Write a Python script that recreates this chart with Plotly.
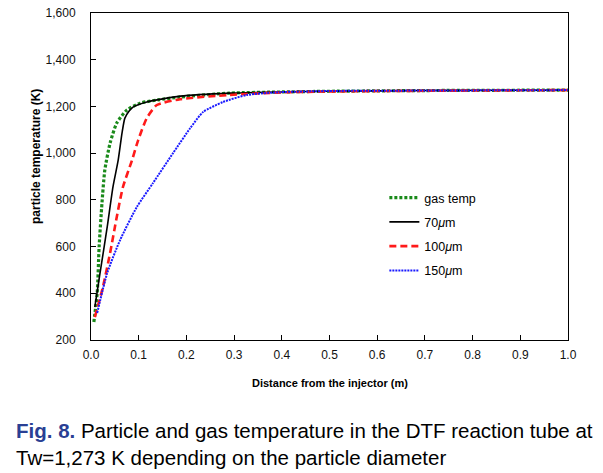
import plotly.graph_objects as go

# Distance (m) and temperature (K)
gas_d = [0.006, 0.013, 0.017, 0.023, 0.029, 0.040, 0.054, 0.075, 0.103, 0.14, 0.187, 0.29, 0.4, 0.5, 0.7, 1.0]
gas_t = [277, 401, 598, 786, 928, 1043, 1129, 1184, 1214, 1228, 1240, 1257, 1262, 1265, 1268, 1270]

p70_d = [0.008, 0.019, 0.034, 0.046, 0.057, 0.065, 0.071, 0.080, 0.088, 0.117, 0.187, 0.29, 0.4, 0.5, 0.7, 1.0]
p70_t = [341, 487, 684, 855, 970, 1086, 1150, 1180, 1197, 1219, 1244, 1257, 1262, 1265, 1268, 1270]

p100_d = [0.008, 0.025, 0.040, 0.054, 0.067, 0.086, 0.099, 0.117, 0.138, 0.187, 0.29, 0.4, 0.5, 0.7, 1.0]
p100_t = [298, 427, 572, 727, 855, 970, 1056, 1150, 1206, 1231, 1249, 1260, 1264, 1267, 1270]

p150_d = [0.013, 0.034, 0.061, 0.096, 0.130, 0.172, 0.208, 0.235, 0.277, 0.327, 0.396, 0.5, 0.7, 1.0]
p150_t = [316, 487, 628, 769, 872, 1000, 1107, 1176, 1219, 1249, 1261, 1266, 1268, 1270]

x_ticks = [0.0, 0.1, 0.2, 0.3, 0.4, 0.5, 0.6, 0.7, 0.8, 0.9, 1.0]
y_ticks = [200, 400, 600, 800, 1000, 1200, 1400, 1600]

FONT = "Liberation Sans, Arial, sans-serif"

fig = go.Figure()
fig.add_trace(go.Scatter(x=gas_d, y=gas_t, mode="lines", name="gas temp", legendgroup="a",
                         line=dict(color="#1a8a1a", width=3.2, dash="3px,2px", shape="spline", smoothing=0.6)))
fig.add_trace(go.Scatter(x=p70_d, y=p70_t, mode="lines", name="70<i>μ</i>m", legendgroup="b",
                         line=dict(color="black", width=1.6, shape="spline", smoothing=0.6)))
fig.add_trace(go.Scatter(x=p100_d, y=p100_t, mode="lines", name="100<i>μ</i>m", legendgroup="c",
                         line=dict(color="#ff1a1a", width=2.6, dash="7px,4px", shape="spline", smoothing=0.6)))
fig.add_trace(go.Scatter(x=p150_d, y=p150_t, mode="lines", name="150<i>μ</i>m", legendgroup="d",
                         line=dict(color="#1a1aff", width=2, dash="2px,1px", shape="spline", smoothing=0.6)))

fig.update_layout(
    width=603, height=473,
    margin=dict(l=91, r=35, t=13, b=133, autoexpand=False),
    paper_bgcolor="white", plot_bgcolor="white",
    font=dict(family=FONT, size=12, color="black"),
    showlegend=True,
    legend=dict(x=0.615, y=0.48, xanchor="left", yanchor="top",
                bgcolor="rgba(0,0,0,0)", font=dict(size=12.5),
                tracegroupgap=5, itemwidth=30),
    xaxis=dict(range=[0, 1.0], tickvals=x_ticks, tickformat=".1f",
               ticks="inside", ticklen=5, tickcolor="black",
               showline=True, linecolor="black", linewidth=1, mirror=True,
               showgrid=False, zeroline=False, ticklabelstandoff=4,
               tickfont=dict(size=12, color="#111")),
    yaxis=dict(range=[200, 1600], tickvals=y_ticks, tickformat=",",
               ticks="inside", ticklen=5, tickcolor="black",
               showline=True, linecolor="black", linewidth=1, mirror=True,
               showgrid=False, zeroline=False, ticklabelstandoff=12,
               tickfont=dict(size=12, color="#111")),
)

fig.add_annotation(text="<b>Distance from the injector (m)</b>", xref="paper", yref="paper",
                   x=0.5, y=-0.13, xanchor="center", yanchor="middle", showarrow=False,
                   font=dict(size=11, color="black"))
fig.add_annotation(text="<b>particle temperature (K)</b>", xref="paper", yref="paper",
                   x=-0.115, y=0.56, xanchor="center", yanchor="middle", showarrow=False,
                   textangle=-90, font=dict(size=12, color="black"))
fig.add_annotation(text="<b><span style='color:#2a3f94'>Fig. 8.</span></b> Particle and gas temperature in the DTF reaction tube at<br>Tw=1,273 K depending on the particle diameter",
                   xref="paper", yref="paper", x=-0.162, y=-0.235, xanchor="left", yanchor="top",
                   showarrow=False, align="left", font=dict(size=20.5, color="black"))

fig.write_html("out.html", config={"displayModeBar": False},
               post_script="document.body.style.margin='0';document.body.style.padding='0';")
